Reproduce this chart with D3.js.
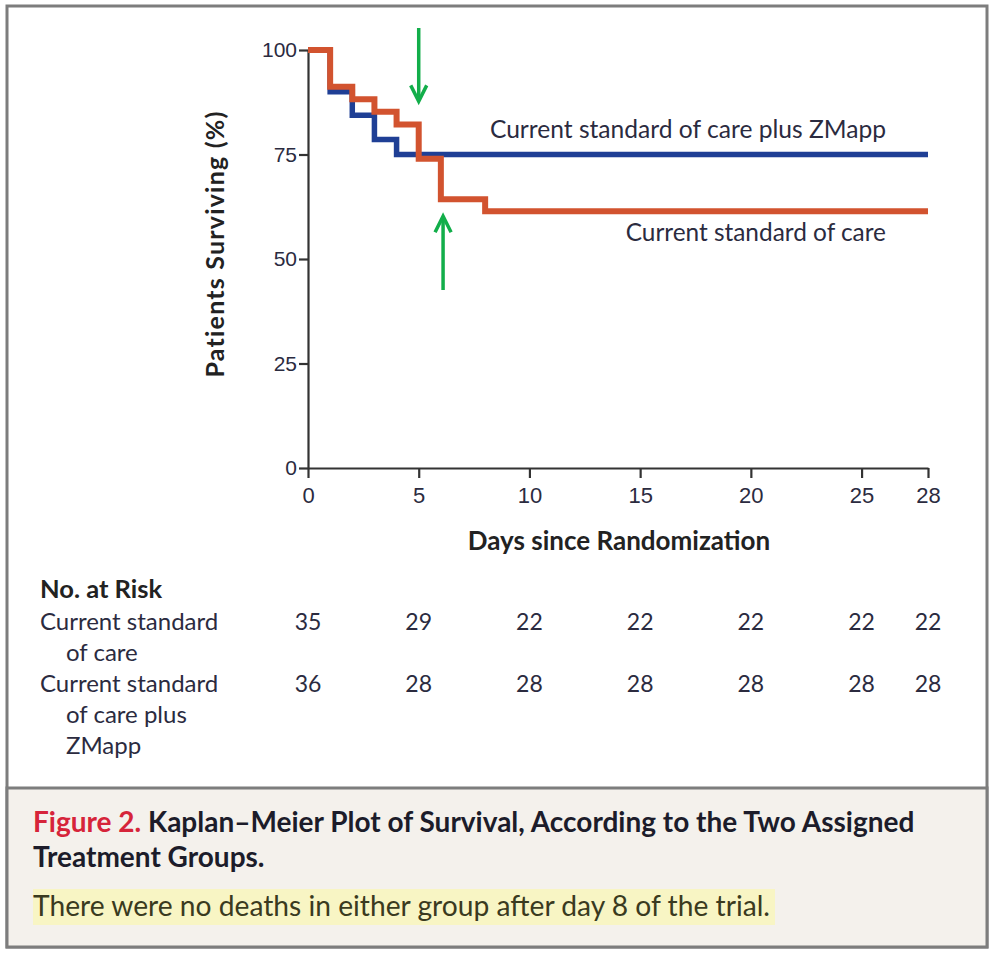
<!DOCTYPE html>
<html>
<head>
<meta charset="utf-8">
<script src="https://cdn.jsdelivr.net/npm/d3@7"></script>
<style>
  body { margin: 0; background: #fff; }
  svg { font-family: Lato, "Open Sans", sans-serif; }
</style>
</head>
<body>
<div id="chart"></div>
<script>
// survival steps
var socDays = [0, 1, 2, 3, 4, 5, 6, 8, 28];
var socSurv = [100, 91.2, 88.2, 85.2, 82.2, 74, 64.3, 61.4, 61.4];
var zmDays = [0, 1, 2, 3, 4, 28];
var zmSurv = [100, 90, 84.4, 78.6, 75, 75];

var xTicks = [0, 5, 10, 15, 20, 25, 28];
var yTicks = [0, 25, 50, 75, 100];

var riskSoc = [35, 29, 22, 22, 22, 22, 22];
var riskZm = [36, 28, 28, 28, 28, 28, 28];

var width = 1002;
var height = 954;

var blue = "#1F3F95";
var orange = "#D2532F";
var green = "#12AE4A";
var ink = "#2b2b3f";

var svg = d3.select("#chart").append("svg")
  .attr("width", width)
  .attr("height", height);

/* frame + caption box */
svg.append("rect")
  .attr("x", 7).attr("y", 6).attr("width", 980).attr("height", 941)
  .attr("fill", "#fff").attr("stroke", "#7d7d7d").attr("stroke-width", 3);
svg.append("rect")
  .attr("x", 7).attr("y", 788).attr("width", 980).attr("height", 159)
  .attr("fill", "#F4F1EC").attr("stroke", "#7d7d7d").attr("stroke-width", 3);

/* Scale */
var xScale = d3.scaleLinear().domain([0, 28]).range([308, 928]);
var yScale = d3.scaleLinear().domain([0, 100]).range([468, 50]);

/* Axes */
var xAxis = d3.axisBottom(xScale).tickValues(xTicks).tickSize(10).tickSizeOuter(0).tickPadding(9);
var yAxis = d3.axisLeft(yScale).tickValues(yTicks).tickSize(9).tickSizeOuter(0).tickPadding(2);

var gx = svg.append("g")
  .attr("transform", "translate(0," + yScale(0) + ")")
  .call(xAxis);
var gy = svg.append("g")
  .attr("transform", "translate(" + xScale(0) + ",0)")
  .call(yAxis);

[gx, gy].forEach(function(g) {
  g.selectAll("path, line").attr("stroke", "#333").attr("stroke-width", 2.2);
  g.selectAll("text").attr("fill", ink).style("font-size", "22px").attr("font-family", null);
});
gy.selectAll("text").style("font-size", "21px");

svg.append("text")
  .attr("x", 619).attr("y", 550)
  .attr("text-anchor", "middle")
  .attr("font-weight", "bold")
  .attr("font-size", 26)
  .attr("fill", "#222")
  .text("Days since Randomization");

svg.append("text")
  .attr("transform", "translate(224,244) rotate(-90)")
  .attr("text-anchor", "middle")
  .attr("font-weight", "bold")
  .attr("font-size", 25)
  .attr("letter-spacing", 1.2)
  .attr("fill", "#222")
  .text("Patients Surviving (%)");

/* lines */
var line = d3.line()
  .x(function(d) { return xScale(d[0]); })
  .y(function(d) { return yScale(d[1]); })
  .curve(d3.curveStepAfter);

var zmPts = zmDays.map(function(d, i) { return [d, zmSurv[i]]; });
var socPts = socDays.map(function(d, i) { return [d, socSurv[i]]; });

svg.append("path")
  .attr("d", line(zmPts))
  .attr("fill", "none").attr("stroke", blue).attr("stroke-width", 5.5);
svg.append("path")
  .attr("d", line(socPts))
  .attr("fill", "none").attr("stroke", orange).attr("stroke-width", 6);

svg.append("text")
  .attr("x", xScale(28) - 42).attr("y", yScale(75) - 17)
  .attr("text-anchor", "end")
  .attr("font-size", 24.6)
  .attr("fill", ink)
  .text("Current standard of care plus ZMapp");
svg.append("text")
  .attr("x", xScale(28) - 42).attr("y", yScale(61.4) + 30)
  .attr("text-anchor", "end")
  .attr("font-size", 24.4)
  .attr("fill", ink)
  .text("Current standard of care");

/* green arrows */
function arrow(x, y1, y2) {
  var dir = y2 > y1 ? 1 : -1;
  svg.append("line")
    .attr("x1", x).attr("x2", x).attr("y1", y1).attr("y2", y2 - dir * 2)
    .attr("stroke", green).attr("stroke-width", 3.5);
  svg.append("polyline")
    .attr("points", [[x - 8, y2 - dir * 16], [x, y2], [x + 8, y2 - dir * 16]].join(" "))
    .attr("fill", "none").attr("stroke", green).attr("stroke-width", 3.5);
}
arrow(xScale(5), 28, yScale(82.2) - 23);
arrow(xScale(6.1), 290, yScale(64.3) + 17);

/* No. at risk */
svg.append("text")
  .attr("x", 40).attr("y", 598)
  .attr("font-weight", "bold").attr("font-size", 25.5).attr("fill", "#222")
  .text("No. at Risk");

var rowLabels = [
  {t: "Current standard", x: 40, y: 630},
  {t: "of care", x: 66, y: 661},
  {t: "Current standard", x: 40, y: 692},
  {t: "of care plus", x: 66, y: 723},
  {t: "ZMapp", x: 66, y: 754}
];
svg.selectAll(".rowlab")
  .data(rowLabels).enter()
  .append("text")
  .attr("x", d => d.x).attr("y", d => d.y)
  .attr("font-size", 24).attr("fill", ink)
  .text(d => d.t);

[[riskSoc, 630], [riskZm, 692]].forEach(function(r) {
  svg.append("g").selectAll("text")
    .data(r[0]).enter()
    .append("text")
    .attr("x", (d, i) => xScale(xTicks[i]))
    .attr("y", r[1])
    .attr("text-anchor", "middle")
    .attr("font-size", 23).attr("fill", ink)
    .text(d => d);
});

/* caption */
svg.append("rect")
  .attr("x", 33).attr("y", 889).attr("width", 742).attr("height", 36)
  .attr("fill", "#F8F5C4");

var cap1 = svg.append("text")
  .attr("x", 33).attr("y", 832)
  .attr("font-weight", "bold").attr("font-size", 28).attr("fill", "#1c1c2a");
cap1.append("tspan").attr("fill", "#D6243A").text("Figure 2. ");
cap1.append("tspan").text("Kaplan\u2013Meier Plot of Survival, According to the Two Assigned");
svg.append("text")
  .attr("x", 33).attr("y", 867)
  .attr("font-weight", "bold").attr("font-size", 28).attr("fill", "#1c1c2a")
  .text("Treatment Groups.");
svg.append("text")
  .attr("x", 33).attr("y", 916)
  .attr("font-size", 28.2).attr("fill", "#3a3a20")
  .text("There were no deaths in either group after day 8 of the trial.");
</script>
</body>
</html>
